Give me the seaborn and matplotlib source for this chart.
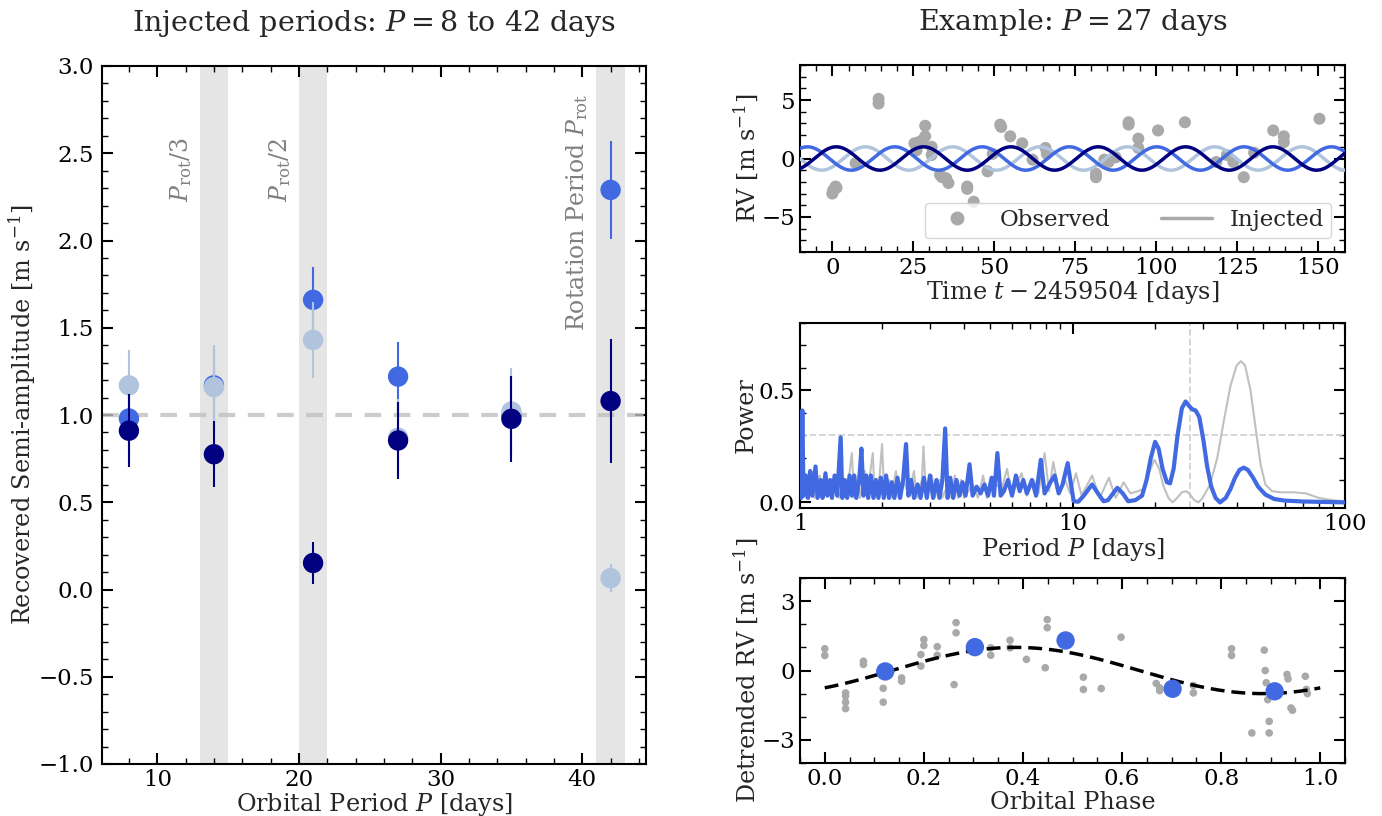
import numpy as np
import pandas as pd
import matplotlib
matplotlib.use("Agg")
import matplotlib.pyplot as plt
import seaborn as sns
from matplotlib.ticker import AutoMinorLocator, MultipleLocator, FuncFormatter
from matplotlib.lines import Line2D

# ---------------- data: left panel ----------------
inj_periods = [8, 14, 21, 27, 35, 42]
K_light = [1.17, 1.16, 1.43, 0.87, 1.02, 0.065]
K_light_err = [0.20, 0.24, 0.22, 0.22, 0.25, 0.08]
K_royal = [0.98, 1.17, 1.66, 1.22, 1.00, 2.29]
K_royal_err = [0.20, 0.20, 0.19, 0.20, 0.22, 0.28]
K_navy = [0.91, 0.775, 0.152, 0.854, 0.978, 1.08]
K_navy_err = [0.21, 0.19, 0.12, 0.22, 0.245, 0.355]
band_centers = [14, 21, 42]
band_labels = [r"$P_{\rm rot}/3$", r"$P_{\rm rot}/2$", r"Rotation Period $P_{\rm rot}$"]
band_label_y = [2.22, 2.22, 1.48]

# ---------------- data: top right (RV time series) ----------------
t_obs = [0.0, 0.3, 1.0, 1.3, 7.2, 14.3, 14.3, 25.4, 26.0, 26.7, 28.0, 28.7, 28.7,
         30.7, 30.7, 33.3, 33.9, 35.2, 35.9, 38.5, 41.7, 41.7, 43.7, 48.0, 49.6,
         51.9, 52.2, 55.0, 58.7, 61.9, 65.9, 66.3, 81.5, 81.5, 84.1, 85.4, 87.6,
         91.6, 91.6, 94.6, 94.6, 100.7, 109.0, 118.7, 122.0, 124.0, 127.2, 130.4,
         136.3, 139.6, 139.6, 150.6]
rv_obs = [-3.0, -2.7, -2.4, -2.5, -0.4, 5.1, 4.7, 1.3, 0.7, 1.4, 1.6, 2.8, 1.9,
          1.0, 0.3, -1.4, -1.6, -1.7, -2.1, -5.1, -2.4, -2.6, -3.7, -1.1, 0.4,
          2.9, 2.7, 1.9, 1.3, -0.1, 0.9, 0.4, -1.3, -1.6, -0.1, -0.3, 0.1,
          3.1, 2.9, 1.7, 0.9, 2.4, 3.1, -0.3, 0.3, -0.3, -1.6, 0.5,
          2.4, 1.9, 1.4, 3.4]
P_example = 27.0
K_injected = 1.0
t_peak = {"lightsteelblue": 10.2, "royalblue": 19.3, "navy": 1.2}

# ---------------- data: middle right (periodograms) ----------------
per_blue = [1.0, 1.01, 1.02, 1.03, 1.05, 1.07, 1.09, 1.11, 1.14, 1.16, 1.19, 1.21, 1.24,
            1.26, 1.29, 1.31, 1.34, 1.37, 1.41, 1.43, 1.46, 1.49, 1.52, 1.55, 1.58,
            1.61, 1.65, 1.68, 1.71, 1.75, 1.78, 1.82, 1.86, 1.9, 1.94, 1.98, 2.03,
            2.07, 2.12, 2.17, 2.22, 2.28, 2.33, 2.39, 2.45, 2.5, 2.56, 2.62, 2.7,
            2.77, 2.85, 2.92, 3.0, 3.08, 3.17, 3.25, 3.33, 3.41, 3.48, 3.56, 3.65,
            3.75, 3.85, 3.95, 4.05, 4.19, 4.3, 4.45, 4.6, 4.75, 4.9, 5.05, 5.15,
            5.3, 5.45, 5.6, 5.8, 6.0, 6.2, 6.4, 6.6, 6.8, 7.1, 7.35, 7.65, 7.9,
            8.3, 8.6, 8.9, 9.2, 9.6, 10.1, 10.5, 11.0, 11.8, 12.4, 13.0, 13.5, 14.6,
            15.3, 16.0, 17.0, 18.0, 18.7, 19.4, 20.1, 20.7, 21.4, 22.2, 22.8, 23.5,
            24.3, 25.2, 26.0, 26.8, 27.5, 28.3, 29.2, 30.2, 31.2, 32.3, 33.5, 34.8,
            36.5, 38.0, 39.5, 41.0, 42.5, 44.0, 46.0, 48.0, 51.0, 55.0, 60.0, 70.0,
            100.0]
pow_blue = [0.05, 0.02, 0.41, 0.03, 0.12, 0.02, 0.14, 0.03, 0.16, 0.02, 0.10, 0.02, 0.13,
            0.03, 0.10, 0.02, 0.12, 0.03, 0.29, 0.02, 0.10, 0.02, 0.12, 0.03, 0.12,
            0.02, 0.10, 0.24, 0.03, 0.12, 0.02, 0.12, 0.02, 0.10, 0.02, 0.11, 0.02,
            0.12, 0.02, 0.09, 0.02, 0.11, 0.02, 0.10, 0.26, 0.03, 0.10, 0.02, 0.08,
            0.02, 0.11, 0.02, 0.12, 0.02, 0.10, 0.02, 0.10, 0.33, 0.02, 0.11, 0.02,
            0.10, 0.03, 0.09, 0.03, 0.17, 0.03, 0.07, 0.04, 0.08, 0.03, 0.11, 0.03,
            0.22, 0.03, 0.05, 0.10, 0.03, 0.12, 0.05, 0.10, 0.04, 0.10, 0.03, 0.19, 0.04,
            0.09, 0.12, 0.04, 0.08, 0.175, 0.005, 0.003, 0.03, 0.08, 0.04, 0.005, 0.01,
            0.065, 0.04, 0.005, 0.01, 0.03, 0.10, 0.20, 0.27, 0.24, 0.15, 0.09, 0.085,
            0.15, 0.30, 0.42, 0.45, 0.43, 0.415, 0.41, 0.38, 0.28, 0.16, 0.07, 0.02,
            0.0, 0.02, 0.06, 0.11, 0.145, 0.155, 0.145, 0.11, 0.07, 0.035, 0.015,
            0.008, 0.004, 0.0]
per_gray = [1.0, 1.03, 1.05, 1.1, 1.13, 1.18, 1.21, 1.27, 1.3, 1.36, 1.39, 1.45, 1.48,
            1.55, 1.58, 1.63, 1.66, 1.73, 1.76, 1.85, 1.88, 1.96, 2.0, 2.04, 2.12,
            2.16, 2.25, 2.3, 2.4, 2.5, 2.62, 2.68, 2.8, 2.84, 2.9, 3.05, 3.12, 3.25,
            3.32, 3.5, 3.6, 3.7, 3.8, 3.9, 4.0, 4.3, 4.5, 4.7, 4.85, 5.1, 5.5, 5.75,
            6.0, 6.5, 6.8, 7.2, 7.5, 7.9, 8.2, 8.5, 8.9, 9.4, 9.8, 10.3, 10.8, 11.8,
            12.6, 13.6, 14.4, 15.4, 16.3, 17.4, 18.3, 19.2, 20.0, 20.8, 21.6, 22.5,
            23.3, 24.2, 25.2, 26.2, 27.0, 28.0, 29.0, 30.0, 32.0, 34.0, 36.0, 38.0,
            40.0, 41.5, 43.0, 45.0, 47.0, 49.0, 51.0, 54.0, 58.0, 65.0, 72.0, 80.0,
            90.0, 100.0]
pow_gray = [0.05, 0.15, 0.02, 0.10, 0.02, 0.12, 0.02, 0.09, 0.02, 0.12, 0.02, 0.10, 0.02,
            0.22, 0.02, 0.12, 0.02, 0.14, 0.02, 0.22, 0.02, 0.12, 0.26, 0.02, 0.10,
            0.02, 0.14, 0.02, 0.10, 0.03, 0.14, 0.02, 0.10, 0.25, 0.02, 0.12, 0.02, 0.10,
            0.02, 0.08, 0.02, 0.12, 0.02, 0.10, 0.02, 0.08, 0.02, 0.12, 0.02, 0.09, 0.06, 0.15,
            0.03, 0.13, 0.03, 0.10, 0.04, 0.22, 0.05, 0.18, 0.05, 0.10, 0.04, 0.13, 0.03, 0.12,
            0.02, 0.11, 0.02, 0.09, 0.04, 0.05, 0.06, 0.14, 0.19, 0.15, 0.07, 0.02,
            0.0, 0.02, 0.045, 0.05, 0.035, 0.01, 0.0, 0.02, 0.08, 0.20, 0.37, 0.52,
            0.61, 0.63, 0.61, 0.50, 0.33, 0.17, 0.08, 0.05, 0.045, 0.045, 0.04, 0.02,
            0.01, 0.005]
fap_level = 0.3

# ---------------- data: bottom right (phase folded) ----------------
phase_obs = [0.0, 0.0, 0.042, 0.042, 0.042, 0.042, 0.078, 0.078, 0.118, 0.118, 0.155,
             0.155, 0.194, 0.194, 0.2, 0.2, 0.227, 0.227, 0.261, 0.265, 0.265, 0.335,
             0.335, 0.374, 0.374, 0.407, 0.445, 0.449, 0.449, 0.522, 0.522, 0.558,
             0.598, 0.669, 0.676, 0.676, 0.744, 0.744, 0.821, 0.821, 0.862, 0.887,
             0.889, 0.891, 0.894, 0.897, 0.897, 0.933, 0.935, 0.941, 0.944, 0.97,
             0.972, 0.974]
rv_detr = [0.94, 0.65, -0.97, -1.1, -1.37, -1.65, 0.4, 0.26, -0.77, -1.37, -0.32,
           -0.46, 0.69, 0.19, 1.34, 1.08, 1.03, 0.66, -0.61, 2.07, 1.63, 0.98,
           0.66, 1.31, 0.98, 0.48, 0.12, 2.2, 1.85, -0.29, -0.82, -0.78,
           1.44, -0.56, -0.75, -0.87, -0.65, -0.97, 0.94, 0.65, -2.7, 0.88,
           0.0, -0.53, -1.26, -2.2, -2.7, -0.17, -0.36, -1.62, -1.72, -0.25,
           -0.82, -1.0]
phase_bin = [0.122, 0.303, 0.486, 0.702, 0.908]
rv_bin = [-0.04, 1.01, 1.30, -0.79, -0.90]
phase_of_peak = 0.385

# ---------------- style ----------------
sns.set_style("ticks")
plt.rcParams.update({
    "font.family": ["DejaVu Serif"],
    "mathtext.fontset": "dejavuserif",
    "font.size": 17,
    "axes.linewidth": 1.5,
    "xtick.direction": "in", "ytick.direction": "in",
    "xtick.top": True, "ytick.right": True,
    "xtick.major.size": 8, "ytick.major.size": 8,
    "xtick.minor.size": 4, "ytick.minor.size": 4,
    "xtick.major.width": 1.5, "ytick.major.width": 1.5,
    "xtick.minor.width": 1.0, "ytick.minor.width": 1.0,
    "xtick.labelsize": 16.5, "ytick.labelsize": 16.5,
    "axes.labelsize": 17.2,
    "axes.edgecolor": "black",
    "xtick.color": "black", "ytick.color": "black",
})

fig = plt.figure(figsize=(13.82, 8.16), dpi=100)
W, H = 1382.0, 816.0
def box(l, t, r, b):
    return [l / W, 1 - b / H, (r - l) / W, (b - t) / H]

axL = fig.add_axes(box(102, 66, 646, 764))
ax1 = fig.add_axes(box(800, 65, 1345, 252))
ax2 = fig.add_axes(box(800, 323, 1345, 508))
ax3 = fig.add_axes(box(800, 578, 1345, 763))

def minor_all(ax):
    ax.tick_params(which="both", direction="in", top=True, right=True)

# ---------------- left panel ----------------
for c in band_centers:
    axL.axvspan(c - 1, c + 1, color="#e5e5e5", lw=0, zorder=0)
axL.axhline(1.0, color="silver", ls=(0, (4, 3)), lw=3, alpha=0.8, zorder=1)
for txt, c, yy in zip(band_labels, band_centers, band_label_y):
    axL.text(c - 2.35, yy, txt, rotation=90, ha="center", va="bottom",
             color="gray", fontsize=17)

series = [("royalblue", K_royal, K_royal_err),
          ("lightsteelblue", K_light, K_light_err),
          ("navy", K_navy, K_navy_err)]
rows = []
for col, k, e in series:
    for p, kk, ee in zip(inj_periods, k, e):
        rows.append({"P": p, "K": kk, "err": ee, "col": col})
dfL = pd.DataFrame(rows)
z = 3
for col, k, e in series:
    axL.errorbar(inj_periods, k, yerr=e, fmt="none", ecolor=col, elinewidth=1.5, zorder=z)
    sub = dfL[dfL["col"] == col]
    sns.scatterplot(data=sub, x="P", y="K", color=col, s=215, edgecolor="none",
                    ax=axL, zorder=z + 0.5, legend=False)
    z += 1
axL.set_xlim(6.1, 44.5)
axL.set_ylim(-1.0, 3.0)
axL.xaxis.set_major_locator(MultipleLocator(10))
axL.xaxis.set_minor_locator(MultipleLocator(2))
axL.yaxis.set_major_locator(MultipleLocator(0.5))
axL.yaxis.set_minor_locator(MultipleLocator(0.1))
axL.tick_params(axis="y", which="major", pad=6)
axL.set_xlabel(r"Orbital Period $P$ [days]", labelpad=0)
axL.set_ylabel(r"Recovered Semi-amplitude [m s$^{-1}$]", labelpad=0)
axL.set_title(r"Injected periods: $P = 8$ to $42$ days", fontsize=20.5, pad=25)
minor_all(axL)

# ---------------- top right ----------------
t_model = np.linspace(-10, 160, 1200)
for col in ["lightsteelblue", "royalblue", "navy"]:
    y = K_injected * np.cos(2 * np.pi * (t_model - t_peak[col]) / P_example)
    sns.lineplot(x=t_model, y=y, color=col, lw=2.5, ax=ax1, zorder=3)
sns.scatterplot(x=t_obs, y=rv_obs, color="darkgray", s=75, edgecolor="none", ax=ax1, zorder=2)
ax1.set_xlim(-10, 158.5)
ax1.set_ylim(-8, 8)
ax1.xaxis.set_major_locator(MultipleLocator(25))
ax1.xaxis.set_minor_locator(AutoMinorLocator(5))
ax1.yaxis.set_major_locator(MultipleLocator(5))
ax1.yaxis.set_minor_locator(MultipleLocator(1))
ax1.set_xlabel(r"Time $t - 2459504$ [days]", labelpad=0)
ax1.set_ylabel(r"RV [m s$^{-1}$]", labelpad=1)
ax1.set_title(r"Example: $P = 27$ days", fontsize=20.5, pad=25)
handles = [Line2D([], [], marker="o", ls="none", color="darkgray", markersize=9),
           Line2D([], [], color="darkgray", lw=2.5)]
ax1.legend(handles, ["Observed", "Injected"], loc="lower right", ncol=2, fontsize=16.5,
           frameon=True, borderaxespad=0.6, columnspacing=2.2, handlelength=2.2,
           borderpad=0.3)
minor_all(ax1)

# ---------------- middle right ----------------
sns.lineplot(x=per_gray, y=pow_gray, color="silver", lw=1.5, ax=ax2, zorder=2)
sns.lineplot(x=per_blue, y=pow_blue, color="royalblue", lw=3, ax=ax2, zorder=3)
ax2.axhline(fap_level, color="lightgray", ls="--", lw=1.3, zorder=1)
ax2.axvline(P_example, color="lightgray", ls="--", lw=1.3, zorder=1)
ax2.set_xscale("log")
ax2.set_xlim(1, 100)
ax2.set_ylim(-0.025, 0.8)
ax2.xaxis.set_major_formatter(FuncFormatter(lambda v, p: f"{v:g}"))
ax2.yaxis.set_major_locator(MultipleLocator(0.5))
ax2.yaxis.set_minor_locator(MultipleLocator(0.1))
ax2.set_xlabel(r"Period $P$ [days]", labelpad=1)
ax2.set_ylabel("Power", labelpad=1)
minor_all(ax2)

# ---------------- bottom right ----------------
ph = np.linspace(0, 1, 300)
sns.scatterplot(x=phase_obs, y=rv_detr, color="darkgray", s=30, edgecolor="none", ax=ax3, zorder=2)
sns.lineplot(x=ph, y=K_injected * np.cos(2 * np.pi * (ph - phase_of_peak)), color="black",
             lw=2.5, ls=(0, (4, 2)), ax=ax3, zorder=3)
sns.scatterplot(x=phase_bin, y=rv_bin, color="royalblue", s=175, edgecolor="none", ax=ax3, zorder=4)
ax3.set_xlim(-0.05, 1.05)
ax3.set_ylim(-4, 4)
ax3.xaxis.set_major_locator(MultipleLocator(0.2))
ax3.xaxis.set_minor_locator(MultipleLocator(0.05))
ax3.yaxis.set_major_locator(MultipleLocator(3))
ax3.yaxis.set_minor_locator(MultipleLocator(1))
ax3.set_xlabel("Orbital Phase", labelpad=1)
ax3.set_ylabel(r"Detrended RV [m s$^{-1}$]", labelpad=1)
minor_all(ax3)

fig.savefig("out.png", dpi=100)
